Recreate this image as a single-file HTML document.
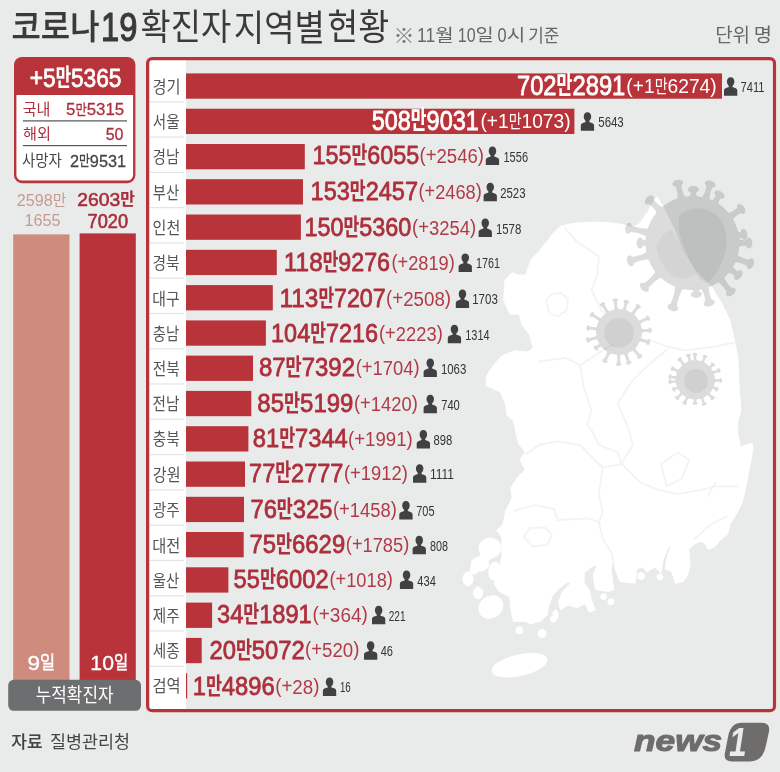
<!DOCTYPE html>
<html lang="ko">
<head>
<meta charset="utf-8">
<title>코로나19 확진자 지역별 현황</title>
<style>
html,body{margin:0;padding:0;background:#e9ebeb;}
body{width:780px;height:772px;overflow:hidden;}
svg{display:block;}
svg text{font-family:"Liberation Sans", "Noto Sans CJK KR", sans-serif;white-space:pre;}
</style>
</head>
<body>
<svg width="780" height="772" viewBox="0 0 780 772">
<rect x="0" y="0" width="780" height="772" fill="#e9ebeb"/>
<g fill="#fff" stroke="#fff" stroke-width="1" stroke-linejoin="round">
<polygon points="560.7,226 573.6,223.3 591.8,222 609.9,222.8 622.8,224.6 631,227 638.4,224.6 643.6,218 648.8,210.4 652,204 657,197 661.5,203.5 673.9,228.4 682.2,251.2 694.6,269.8 711.2,286.4 721.6,303 729.8,320 734.2,339 737.9,357.8 738.7,380.3 741,410.4 738,420 737.5,433 740.6,447.2 746,445 752.3,443.3 753,448.5 749.7,466.6 745.8,487.4 741.9,502.9 735.4,515.9 730.3,523.6 727.7,534 719.9,540.5 714.7,546.9 708.2,549.5 704.4,543 700,541.3 694,544.4 688.8,549.5 690.1,565.1 687.5,575.4 683.6,581.3 675.4,583.3 671.3,571 665.1,569 667.2,556.7 671.3,545.4 668,548 663,560 661,573.1 654.9,566.9 646.7,572 642.6,566.9 636.4,569 635.4,583.3 626.2,582.3 620,581.3 615.9,571 612.8,560.8 611,568 613.8,589.5 607.7,591.5 595.4,589.5 593.3,575.1 597.4,564.9 591.3,566.9 584.1,573.1 584.1,583.3 589.2,589.5 591.3,599.7 595.4,610 589.2,612.1 585.1,603.8 576.9,607.9 568,605 560.5,610 558.5,601.8 562.6,591.5 572.8,581.3 566,583 560.5,587.4 552.3,595.6 548.4,607 547.2,614.7 540.7,621.2 530.3,623.8 525.1,621.2 513.5,621.2 510.9,609.5 509.6,596.6 499.2,591.4 494,583.6 499.2,570.7 501.8,557.7 501.8,537 496.6,530.5 503.1,524 505.7,511.1 512.2,498.1 510.9,487.8 517.4,477.7 525.1,469.9 520,459.5 525.1,451.8 518.7,444 516.1,433.6 513.5,420.7 507,415.5 505.7,405.1 500.5,392.2 492,388 486.3,385.7 486.3,376.6 492.7,366.3 501.8,355.9 514.8,350.7 528,352 532.9,348 529.6,334.7 521.8,324.4 519.2,314 510,314 503.7,300 505,280 512,272.5 518,275 525.7,275 528.3,267.4 530.9,259.6 538.7,251.8 545.1,244 552.9,233.7"/>
<ellipse cx="490" cy="548" rx="11" ry="10" transform="rotate(0 490 548)"/>
<ellipse cx="480" cy="564" rx="9" ry="7" transform="rotate(0 480 564)"/>
<ellipse cx="468" cy="579" rx="5" ry="7" transform="rotate(0 468 579)"/>
<ellipse cx="478" cy="593" rx="4.5" ry="6" transform="rotate(0 478 593)"/>
<ellipse cx="494.5" cy="571" rx="5.5" ry="9" transform="rotate(10 494.5 571)"/>
<ellipse cx="486" cy="556" rx="6" ry="5" transform="rotate(0 486 556)"/>
<ellipse cx="474" cy="570" rx="4" ry="4" transform="rotate(0 474 570)"/>
<ellipse cx="641" cy="576" rx="3.5" ry="3.5" transform="rotate(0 641 576)"/>
<ellipse cx="660" cy="577" rx="3" ry="3" transform="rotate(0 660 577)"/>
<ellipse cx="490.8" cy="607" rx="12.5" ry="10.5" transform="rotate(-35 490.8 607)"/>
<ellipse cx="519.4" cy="630.3" rx="3.5" ry="3.5" transform="rotate(0 519.4 630.3)"/>
<ellipse cx="542" cy="633.6" rx="4" ry="4" transform="rotate(0 542 633.6)"/>
<ellipse cx="555.5" cy="615" rx="2.5" ry="5" transform="rotate(0 555.5 615)"/>
<ellipse cx="603.6" cy="596.7" rx="3" ry="3" transform="rotate(0 603.6 596.7)"/>
<ellipse cx="610.8" cy="601.8" rx="3" ry="3" transform="rotate(0 610.8 601.8)"/>
<ellipse cx="553.3" cy="619.2" rx="3" ry="3" transform="rotate(0 553.3 619.2)"/>
<ellipse cx="519.5" cy="665.3" rx="28" ry="10.2" transform="rotate(-12.5 519.5 665.3)"/>
</g>
<g fill="none" stroke="#f2f3f3" stroke-width="1.8" stroke-linejoin="round" stroke-linecap="round">
<polyline points="565.1,228.2 576.4,241.3 587.7,248.8 598.9,256.3 597.1,275.1 591.4,290.2 598.9,305.2 602.7,312.7"/>
<polyline points="546,301 551,294.5 561,293 568,299 566.5,310 558,316.5 549.5,313.5 546,301"/>
<polyline points="647.8,339 666.6,346.5 685.3,350.3 715.4,346.5 734.2,342.7"/>
<polyline points="538.8,361.5 565.1,357.8 580.2,365.3 602.7,350.3 612,345"/>
<polyline points="580.2,365.3 584,388 591.4,410 587,425 591.4,430 598.9,445 617.7,452.5 621.5,463.8"/>
<polyline points="617.7,402.8 632.7,380.3 647.8,365.3 666.6,350.3"/>
<polyline points="621.5,463.8 632.7,445 629,430 617.7,402.8"/>
<polyline points="525.7,454.4 538.8,445 557.6,441.3 580.2,445 591.4,456.3 602.7,467.6"/>
<polyline points="514.4,510.8 535.1,505.1 553.9,508.9 557.6,520.2 587.7,518.3 598.9,522 602.7,538.9 612.1,554 614,565.2"/>
<polyline points="523.8,537 530,528 545,527.7 552,535 547,545 533,546.5 523.8,537"/>
<polyline points="602.7,467.6 621.5,463.8 640.3,482.6 659,490.1 677.8,493.9 700.4,490.1 715.4,486.3 737.9,486.3"/>
<polyline points="602.7,467.6 598.9,493.9 602.7,512.6 598.9,522"/>
<polyline points="660.9,463.8 677.8,452.5 689.1,460 681.6,478.8 666.6,486.3 660.9,463.8"/>
<polyline points="707.9,495.7 715.4,482.6"/>
<polyline points="694.7,538.9 711.6,523.9 726.7,516.4"/>
</g>
<g opacity="0.135" fill="#000">
<circle cx="692.5" cy="243" r="47"/>
<path d="M45.50,-4.20 C50.38,-2.50 56.23,-2.50 58.60,-3.25 Q60.20,-5.60 61.00,-5.60 C66.20,-5.60 66.20,5.60 61.00,5.60 Q60.20,5.60 58.60,3.25 C56.23,2.50 50.38,2.50 45.50,4.20Z" transform="translate(692.5 243) rotate(-103.8)"/>
<path d="M45.50,-4.20 C48.38,-2.50 51.83,-2.50 50.60,-3.25 Q52.20,-5.60 53.00,-5.60 C58.20,-5.60 58.20,5.60 53.00,5.60 Q52.20,5.60 50.60,3.25 C51.83,2.50 48.38,2.50 45.50,4.20Z" transform="translate(692.5 243) rotate(-89.0)"/>
<path d="M45.50,-4.20 C50.38,-2.50 56.23,-2.50 58.60,-3.25 Q60.20,-5.60 61.00,-5.60 C66.20,-5.60 66.20,5.60 61.00,5.60 Q60.20,5.60 58.60,3.25 C56.23,2.50 50.38,2.50 45.50,4.20Z" transform="translate(692.5 243) rotate(-73.3)"/>
<path d="M45.50,-4.20 C48.88,-2.50 52.92,-2.50 52.60,-3.25 Q54.20,-5.60 55.00,-5.60 C60.20,-5.60 60.20,5.60 55.00,5.60 Q54.20,5.60 52.60,3.25 C52.92,2.50 48.88,2.50 45.50,4.20Z" transform="translate(692.5 243) rotate(-60.8)"/>
<path d="M45.50,-4.20 C49.88,-2.50 55.12,-2.50 56.60,-3.25 Q58.20,-5.60 59.00,-5.60 C64.20,-5.60 64.20,5.60 59.00,5.60 Q58.20,5.60 56.60,3.25 C55.12,2.50 49.88,2.50 45.50,4.20Z" transform="translate(692.5 243) rotate(-35.0)"/>
<path d="M45.50,-4.20 C48.05,-2.50 51.11,-2.50 49.30,-3.25 Q50.90,-5.60 51.70,-5.60 C56.90,-5.60 56.90,5.60 51.70,5.60 Q50.90,5.60 49.30,3.25 C51.11,2.50 48.05,2.50 45.50,4.20Z" transform="translate(692.5 243) rotate(-9.6)"/>
<path d="M45.50,-4.20 C49.12,-2.50 53.48,-2.50 53.60,-3.25 Q55.20,-5.60 56.00,-5.60 C61.20,-5.60 61.20,5.60 56.00,5.60 Q55.20,5.60 53.60,3.25 C53.48,2.50 49.12,2.50 45.50,4.20Z" transform="translate(692.5 243) rotate(0.0)"/>
<path d="M45.50,-4.20 C50.38,-2.50 56.23,-2.50 58.60,-3.25 Q60.20,-5.60 61.00,-5.60 C66.20,-5.60 66.20,5.60 61.00,5.60 Q60.20,5.60 58.60,3.25 C56.23,2.50 50.38,2.50 45.50,4.20Z" transform="translate(692.5 243) rotate(19.6)"/>
<path d="M45.50,-4.20 C49.00,-2.50 53.20,-2.50 53.10,-3.25 Q54.70,-5.60 55.50,-5.60 C60.70,-5.60 60.70,5.60 55.50,5.60 Q54.70,5.60 53.10,3.25 C53.20,2.50 49.00,2.50 45.50,4.20Z" transform="translate(692.5 243) rotate(35.0)"/>
<path d="M45.50,-4.20 C50.55,-2.50 56.61,-2.50 59.30,-3.25 Q60.90,-5.60 61.70,-5.60 C66.90,-5.60 66.90,5.60 61.70,5.60 Q60.90,5.60 59.30,3.25 C56.61,2.50 50.55,2.50 45.50,4.20Z" transform="translate(692.5 243) rotate(52.0)"/>
<path d="M45.50,-4.20 C50.55,-2.50 56.61,-2.50 59.30,-3.25 Q60.90,-5.60 61.70,-5.60 C66.90,-5.60 66.90,5.60 61.70,5.60 Q60.90,5.60 59.30,3.25 C56.61,2.50 50.55,2.50 45.50,4.20Z" transform="translate(692.5 243) rotate(74.4)"/>
<path d="M45.50,-4.20 C47.88,-2.50 50.73,-2.50 48.60,-3.25 Q50.20,-5.60 51.00,-5.60 C56.20,-5.60 56.20,5.60 51.00,5.60 Q50.20,5.60 48.60,3.25 C50.73,2.50 47.88,2.50 45.50,4.20Z" transform="translate(692.5 243) rotate(85.7)"/>
<path d="M45.50,-4.20 C51.88,-2.50 59.52,-2.50 64.60,-3.25 Q66.20,-5.60 67.00,-5.60 C72.20,-5.60 72.20,5.60 67.00,5.60 Q66.20,5.60 64.60,3.25 C59.52,2.50 51.88,2.50 45.50,4.20Z" transform="translate(692.5 243) rotate(106.9)"/>
<path d="M45.50,-4.20 C51.38,-2.50 58.42,-2.50 62.60,-3.25 Q64.20,-5.60 65.00,-5.60 C70.20,-5.60 70.20,5.60 65.00,5.60 Q64.20,5.60 62.60,3.25 C58.42,2.50 51.38,2.50 45.50,4.20Z" transform="translate(692.5 243) rotate(137.4)"/>
<path d="M45.50,-4.20 C51.12,-2.50 57.88,-2.50 61.60,-3.25 Q63.20,-5.60 64.00,-5.60 C69.20,-5.60 69.20,5.60 64.00,5.60 Q63.20,5.60 61.60,3.25 C57.88,2.50 51.12,2.50 45.50,4.20Z" transform="translate(692.5 243) rotate(164.0)"/>
<path d="M45.50,-4.20 C48.12,-2.50 51.27,-2.50 49.60,-3.25 Q51.20,-5.60 52.00,-5.60 C57.20,-5.60 57.20,5.60 52.00,5.60 Q51.20,5.60 49.60,3.25 C51.27,2.50 48.12,2.50 45.50,4.20Z" transform="translate(692.5 243) rotate(180.0)"/>
<path d="M45.50,-4.20 C51.38,-2.50 58.42,-2.50 62.60,-3.25 Q64.20,-5.60 65.00,-5.60 C70.20,-5.60 70.20,5.60 65.00,5.60 Q64.20,5.60 62.60,3.25 C58.42,2.50 51.38,2.50 45.50,4.20Z" transform="translate(692.5 243) rotate(-167.0)"/>
<path d="M45.50,-4.20 C50.25,-2.50 55.95,-2.50 58.10,-3.25 Q59.70,-5.60 60.50,-5.60 C65.70,-5.60 65.70,5.60 60.50,5.60 Q59.70,5.60 58.10,3.25 C55.95,2.50 50.25,2.50 45.50,4.20Z" transform="translate(692.5 243) rotate(-135.0)"/>
</g>
<path opacity="0.05" fill="#000" d="M679,216 Q690,206 704,209 Q718,212 724,226 Q730,244 722,262 Q716,276 708,283 Q700,282 694,270 Q684,250 679,232 Z"/><path opacity="0.035" fill="#000" d="M656,246 Q662,232 672,230 L684,254 L696,273 Q686,282 672,276 Q660,266 656,246 Z"/>
<g opacity="0.135" fill="#000">
<circle cx="619" cy="332" r="23"/>
<path d="M21.50,-2.18 C24.38,-1.30 27.82,-1.30 29.67,-1.69 Q30.50,-2.91 30.92,-2.91 C33.62,-2.91 33.62,2.91 30.92,2.91 Q30.50,2.91 29.67,1.69 C27.82,1.30 24.38,1.30 21.50,2.18Z" transform="translate(619 332) rotate(-172.6)"/>
<path d="M21.50,-2.18 C24.62,-1.30 28.38,-1.30 30.67,-1.69 Q31.50,-2.91 31.92,-2.91 C34.62,-2.91 34.62,2.91 31.92,2.91 Q31.50,2.91 30.67,1.69 C28.38,1.30 24.62,1.30 21.50,2.18Z" transform="translate(619 332) rotate(-147.3)"/>
<path d="M21.50,-2.18 C24.62,-1.30 28.38,-1.30 30.67,-1.69 Q31.50,-2.91 31.92,-2.91 C34.62,-2.91 34.62,2.91 31.92,2.91 Q31.50,2.91 30.67,1.69 C28.38,1.30 24.62,1.30 21.50,2.18Z" transform="translate(619 332) rotate(-120.7)"/>
<path d="M21.50,-2.18 C24.62,-1.30 28.38,-1.30 30.67,-1.69 Q31.50,-2.91 31.92,-2.91 C34.62,-2.91 34.62,2.91 31.92,2.91 Q31.50,2.91 30.67,1.69 C28.38,1.30 24.62,1.30 21.50,2.18Z" transform="translate(619 332) rotate(-96.9)"/>
<path d="M21.50,-2.18 C24.38,-1.30 27.82,-1.30 29.67,-1.69 Q30.50,-2.91 30.92,-2.91 C33.62,-2.91 33.62,2.91 30.92,2.91 Q30.50,2.91 29.67,1.69 C27.82,1.30 24.38,1.30 21.50,2.18Z" transform="translate(619 332) rotate(-76.4)"/>
<path d="M21.50,-2.18 C24.62,-1.30 28.38,-1.30 30.67,-1.69 Q31.50,-2.91 31.92,-2.91 C34.62,-2.91 34.62,2.91 31.92,2.91 Q31.50,2.91 30.67,1.69 C28.38,1.30 24.62,1.30 21.50,2.18Z" transform="translate(619 332) rotate(-53.1)"/>
<path d="M21.50,-2.18 C24.62,-1.30 28.38,-1.30 30.67,-1.69 Q31.50,-2.91 31.92,-2.91 C34.62,-2.91 34.62,2.91 31.92,2.91 Q31.50,2.91 30.67,1.69 C28.38,1.30 24.62,1.30 21.50,2.18Z" transform="translate(619 332) rotate(-25.6)"/>
<path d="M21.50,-2.18 C24.38,-1.30 27.82,-1.30 29.67,-1.69 Q30.50,-2.91 30.92,-2.91 C33.62,-2.91 33.62,2.91 30.92,2.91 Q30.50,2.91 29.67,1.69 C27.82,1.30 24.38,1.30 21.50,2.18Z" transform="translate(619 332) rotate(-3.0)"/>
<path d="M21.50,-2.18 C24.38,-1.30 27.82,-1.30 29.67,-1.69 Q30.50,-2.91 30.92,-2.91 C33.62,-2.91 33.62,2.91 30.92,2.91 Q30.50,2.91 29.67,1.69 C27.82,1.30 24.38,1.30 21.50,2.18Z" transform="translate(619 332) rotate(19.3)"/>
<path d="M21.50,-2.18 C24.62,-1.30 28.38,-1.30 30.67,-1.69 Q31.50,-2.91 31.92,-2.91 C34.62,-2.91 34.62,2.91 31.92,2.91 Q31.50,2.91 30.67,1.69 C28.38,1.30 24.62,1.30 21.50,2.18Z" transform="translate(619 332) rotate(49.7)"/>
<path d="M21.50,-2.18 C24.62,-1.30 28.38,-1.30 30.67,-1.69 Q31.50,-2.91 31.92,-2.91 C34.62,-2.91 34.62,2.91 31.92,2.91 Q31.50,2.91 30.67,1.69 C28.38,1.30 24.62,1.30 21.50,2.18Z" transform="translate(619 332) rotate(72.4)"/>
<path d="M21.50,-2.18 C24.62,-1.30 28.38,-1.30 30.67,-1.69 Q31.50,-2.91 31.92,-2.91 C34.62,-2.91 34.62,2.91 31.92,2.91 Q31.50,2.91 30.67,1.69 C28.38,1.30 24.62,1.30 21.50,2.18Z" transform="translate(619 332) rotate(90.6)"/>
<path d="M21.50,-2.18 C24.62,-1.30 28.38,-1.30 30.67,-1.69 Q31.50,-2.91 31.92,-2.91 C34.62,-2.91 34.62,2.91 31.92,2.91 Q31.50,2.91 30.67,1.69 C28.38,1.30 24.62,1.30 21.50,2.18Z" transform="translate(619 332) rotate(116.0)"/>
<path d="M21.50,-2.18 C23.62,-1.30 26.18,-1.30 26.67,-1.69 Q27.50,-2.91 27.92,-2.91 C30.62,-2.91 30.62,2.91 27.92,2.91 Q27.50,2.91 26.67,1.69 C26.18,1.30 23.62,1.30 21.50,2.18Z" transform="translate(619 332) rotate(145.2)"/>
<path d="M21.50,-2.18 C24.62,-1.30 28.38,-1.30 30.67,-1.69 Q31.50,-2.91 31.92,-2.91 C34.62,-2.91 34.62,2.91 31.92,2.91 Q31.50,2.91 30.67,1.69 C28.38,1.30 24.62,1.30 21.50,2.18Z" transform="translate(619 332) rotate(165.7)"/>
</g>
<circle cx="619" cy="333" r="15" fill="#000" opacity="0.05"/>
<g opacity="0.135" fill="#000">
<circle cx="695.3" cy="379.8" r="19.6"/>
<path d="M18.10,-1.89 C20.33,-1.12 23.00,-1.12 24.12,-1.46 Q24.84,-2.52 25.20,-2.52 C27.54,-2.52 27.54,2.52 25.20,2.52 Q24.84,2.52 24.12,1.46 C23.00,1.12 20.33,1.12 18.10,1.89Z" transform="translate(695.3 379.8) rotate(-173.3)"/>
<path d="M18.10,-1.89 C20.33,-1.12 23.00,-1.12 24.12,-1.46 Q24.84,-2.52 25.20,-2.52 C27.54,-2.52 27.54,2.52 25.20,2.52 Q24.84,2.52 24.12,1.46 C23.00,1.12 20.33,1.12 18.10,1.89Z" transform="translate(695.3 379.8) rotate(-153.8)"/>
<path d="M18.10,-1.89 C20.45,-1.12 23.27,-1.12 24.62,-1.46 Q25.34,-2.52 25.70,-2.52 C28.04,-2.52 28.04,2.52 25.70,2.52 Q25.34,2.52 24.62,1.46 C23.27,1.12 20.45,1.12 18.10,1.89Z" transform="translate(695.3 379.8) rotate(-127.3)"/>
<path d="M18.10,-1.89 C20.33,-1.12 23.00,-1.12 24.12,-1.46 Q24.84,-2.52 25.20,-2.52 C27.54,-2.52 27.54,2.52 25.20,2.52 Q24.84,2.52 24.12,1.46 C23.00,1.12 20.33,1.12 18.10,1.89Z" transform="translate(695.3 379.8) rotate(-106.0)"/>
<path d="M18.10,-1.89 C20.33,-1.12 23.00,-1.12 24.12,-1.46 Q24.84,-2.52 25.20,-2.52 C27.54,-2.52 27.54,2.52 25.20,2.52 Q24.84,2.52 24.12,1.46 C23.00,1.12 20.33,1.12 18.10,1.89Z" transform="translate(695.3 379.8) rotate(-90.7)"/>
<path d="M18.10,-1.89 C20.33,-1.12 23.00,-1.12 24.12,-1.46 Q24.84,-2.52 25.20,-2.52 C27.54,-2.52 27.54,2.52 25.20,2.52 Q24.84,2.52 24.12,1.46 C23.00,1.12 20.33,1.12 18.10,1.89Z" transform="translate(695.3 379.8) rotate(-67.3)"/>
<path d="M18.10,-1.89 C19.83,-1.12 21.89,-1.12 22.12,-1.46 Q22.84,-2.52 23.20,-2.52 C25.54,-2.52 25.54,2.52 23.20,2.52 Q22.84,2.52 22.12,1.46 C21.89,1.12 19.83,1.12 18.10,1.89Z" transform="translate(695.3 379.8) rotate(-40.8)"/>
<path d="M18.10,-1.89 C20.33,-1.12 23.00,-1.12 24.12,-1.46 Q24.84,-2.52 25.20,-2.52 C27.54,-2.52 27.54,2.52 25.20,2.52 Q24.84,2.52 24.12,1.46 C23.00,1.12 20.33,1.12 18.10,1.89Z" transform="translate(695.3 379.8) rotate(-21.6)"/>
<path d="M18.10,-1.89 C20.33,-1.12 23.00,-1.12 24.12,-1.46 Q24.84,-2.52 25.20,-2.52 C27.54,-2.52 27.54,2.52 25.20,2.52 Q24.84,2.52 24.12,1.46 C23.00,1.12 20.33,1.12 18.10,1.89Z" transform="translate(695.3 379.8) rotate(1.6)"/>
<path d="M18.10,-1.89 C19.83,-1.12 21.89,-1.12 22.12,-1.46 Q22.84,-2.52 23.20,-2.52 C25.54,-2.52 25.54,2.52 23.20,2.52 Q22.84,2.52 22.12,1.46 C21.89,1.12 19.83,1.12 18.10,1.89Z" transform="translate(695.3 379.8) rotate(23.7)"/>
<path d="M18.10,-1.89 C20.33,-1.12 23.00,-1.12 24.12,-1.46 Q24.84,-2.52 25.20,-2.52 C27.54,-2.52 27.54,2.52 25.20,2.52 Q24.84,2.52 24.12,1.46 C23.00,1.12 20.33,1.12 18.10,1.89Z" transform="translate(695.3 379.8) rotate(46.5)"/>
<path d="M18.10,-1.89 C20.45,-1.12 23.27,-1.12 24.62,-1.46 Q25.34,-2.52 25.70,-2.52 C28.04,-2.52 28.04,2.52 25.70,2.52 Q25.34,2.52 24.62,1.46 C23.27,1.12 20.45,1.12 18.10,1.89Z" transform="translate(695.3 379.8) rotate(69.9)"/>
<path d="M18.10,-1.89 C19.83,-1.12 21.89,-1.12 22.12,-1.46 Q22.84,-2.52 23.20,-2.52 C25.54,-2.52 25.54,2.52 23.20,2.52 Q22.84,2.52 22.12,1.46 C21.89,1.12 19.83,1.12 18.10,1.89Z" transform="translate(695.3 379.8) rotate(90.6)"/>
<path d="M18.10,-1.89 C20.33,-1.12 23.00,-1.12 24.12,-1.46 Q24.84,-2.52 25.20,-2.52 C27.54,-2.52 27.54,2.52 25.20,2.52 Q24.84,2.52 24.12,1.46 C23.00,1.12 20.33,1.12 18.10,1.89Z" transform="translate(695.3 379.8) rotate(114.7)"/>
<path d="M18.10,-1.89 C20.45,-1.12 23.27,-1.12 24.62,-1.46 Q25.34,-2.52 25.70,-2.52 C28.04,-2.52 28.04,2.52 25.70,2.52 Q25.34,2.52 24.62,1.46 C23.27,1.12 20.45,1.12 18.10,1.89Z" transform="translate(695.3 379.8) rotate(134.7)"/>
<path d="M18.10,-1.89 C19.83,-1.12 21.89,-1.12 22.12,-1.46 Q22.84,-2.52 23.20,-2.52 C25.54,-2.52 25.54,2.52 23.20,2.52 Q22.84,2.52 22.12,1.46 C21.89,1.12 19.83,1.12 18.10,1.89Z" transform="translate(695.3 379.8) rotate(156.1)"/>
<path d="M18.10,-1.89 C20.33,-1.12 23.00,-1.12 24.12,-1.46 Q24.84,-2.52 25.20,-2.52 C27.54,-2.52 27.54,2.52 25.20,2.52 Q24.84,2.52 24.12,1.46 C23.00,1.12 20.33,1.12 18.10,1.89Z" transform="translate(695.3 379.8) rotate(175.3)"/>
</g>
<circle cx="696" cy="381" r="12" fill="#000" opacity="0.05"/>
<rect x="14" y="57" width="121.4" height="126.2" rx="8" fill="#b8343a"/>
<path d="M16.4,95.1 H133.1 V175 a5.6,5.6 0 0 1 -5.6,5.6 H22 a5.6,5.6 0 0 1 -5.6,-5.6 Z" fill="#fff"/>
<rect x="22.9" y="120.3" width="104.1" height="1.2" fill="#555"/>
<rect x="22.9" y="145" width="104.1" height="1.2" fill="#555"/>
<rect x="13.2" y="234.4" width="56.3" height="450" fill="#cf8b7d"/>
<rect x="79.6" y="233.4" width="56.2" height="451" fill="#b8343a"/>
<rect x="8.2" y="679.8" width="132.8" height="31" rx="5.5" fill="#6d6e70"/>
<path d="M149.5,60 H186 V709 H153 a3.5,3.5 0 0 1 -3.5,-3.5 Z" fill="#fff"/>
<rect x="150" y="101.2" width="34" height="1.2" fill="#e3e4e4"/>
<rect x="150" y="136.5" width="34" height="1.2" fill="#e3e4e4"/>
<rect x="150" y="171.8" width="34" height="1.2" fill="#e3e4e4"/>
<rect x="150" y="207.0" width="34" height="1.2" fill="#e3e4e4"/>
<rect x="150" y="242.3" width="34" height="1.2" fill="#e3e4e4"/>
<rect x="150" y="277.6" width="34" height="1.2" fill="#e3e4e4"/>
<rect x="150" y="312.9" width="34" height="1.2" fill="#e3e4e4"/>
<rect x="150" y="348.2" width="34" height="1.2" fill="#e3e4e4"/>
<rect x="150" y="383.4" width="34" height="1.2" fill="#e3e4e4"/>
<rect x="150" y="418.7" width="34" height="1.2" fill="#e3e4e4"/>
<rect x="150" y="454.0" width="34" height="1.2" fill="#e3e4e4"/>
<rect x="150" y="489.3" width="34" height="1.2" fill="#e3e4e4"/>
<rect x="150" y="524.6" width="34" height="1.2" fill="#e3e4e4"/>
<rect x="150" y="559.8" width="34" height="1.2" fill="#e3e4e4"/>
<rect x="150" y="595.1" width="34" height="1.2" fill="#e3e4e4"/>
<rect x="150" y="630.4" width="34" height="1.2" fill="#e3e4e4"/>
<rect x="150" y="665.7" width="34" height="1.2" fill="#e3e4e4"/>
<rect x="186" y="73.4" width="536.0" height="25.3" fill="#b8343a"/>
<rect x="186" y="108.7" width="388.4" height="25.3" fill="#b8343a"/>
<rect x="186" y="144.0" width="118.8" height="25.3" fill="#b8343a"/>
<rect x="186" y="179.2" width="117.0" height="25.3" fill="#b8343a"/>
<rect x="186" y="214.5" width="114.9" height="25.3" fill="#b8343a"/>
<rect x="186" y="249.8" width="90.8" height="25.3" fill="#b8343a"/>
<rect x="186" y="285.1" width="86.8" height="25.3" fill="#b8343a"/>
<rect x="186" y="320.4" width="79.9" height="25.3" fill="#b8343a"/>
<rect x="186" y="355.6" width="67.0" height="25.3" fill="#b8343a"/>
<rect x="186" y="390.9" width="65.3" height="25.3" fill="#b8343a"/>
<rect x="186" y="426.2" width="62.4" height="25.3" fill="#b8343a"/>
<rect x="186" y="461.5" width="59.0" height="25.3" fill="#b8343a"/>
<rect x="186" y="496.8" width="58.0" height="25.3" fill="#b8343a"/>
<rect x="186" y="532.0" width="57.7" height="25.3" fill="#b8343a"/>
<rect x="186" y="567.3" width="42.4" height="25.3" fill="#b8343a"/>
<rect x="186" y="602.6" width="26.1" height="25.3" fill="#b8343a"/>
<rect x="186" y="637.9" width="15.7" height="25.3" fill="#b8343a"/>
<rect x="186" y="673.2" width="1.2" height="25.3" fill="#b8343a"/>
<rect x="147.6" y="58.6" width="626.9" height="652.1" rx="4.5" fill="none" stroke="#b8343a" stroke-width="3.2"/>
<g fill="#414042">
<path transform="translate(724.0 77.2)" d="M6.65,0 C9,0 10.4,1.9 10.4,4.4 C10.4,6.3 9.6,7.9 8.5,8.7 L8.5,9.9 L11.2,10.8 C12.6,11.3 13.3,12.2 13.3,13.6 L13.3,18.5 L0,18.5 L0,13.6 C0,12.2 0.7,11.3 2.1,10.8 L4.8,9.9 L4.8,8.7 C3.7,7.9 2.9,6.3 2.9,4.4 C2.9,1.9 4.3,0 6.65,0 Z"/>
<path transform="translate(580.8 112.2)" d="M6.65,0 C9,0 10.4,1.9 10.4,4.4 C10.4,6.3 9.6,7.9 8.5,8.7 L8.5,9.9 L11.2,10.8 C12.6,11.3 13.3,12.2 13.3,13.6 L13.3,18.5 L0,18.5 L0,13.6 C0,12.2 0.7,11.3 2.1,10.8 L4.8,9.9 L4.8,8.7 C3.7,7.9 2.9,6.3 2.9,4.4 C2.9,1.9 4.3,0 6.65,0 Z"/>
<path transform="translate(485.8 146.6)" d="M6.65,0 C9,0 10.4,1.9 10.4,4.4 C10.4,6.3 9.6,7.9 8.5,8.7 L8.5,9.9 L11.2,10.8 C12.6,11.3 13.3,12.2 13.3,13.6 L13.3,18.5 L0,18.5 L0,13.6 C0,12.2 0.7,11.3 2.1,10.8 L4.8,9.9 L4.8,8.7 C3.7,7.9 2.9,6.3 2.9,4.4 C2.9,1.9 4.3,0 6.65,0 Z"/>
<path transform="translate(483.6 182.7)" d="M6.65,0 C9,0 10.4,1.9 10.4,4.4 C10.4,6.3 9.6,7.9 8.5,8.7 L8.5,9.9 L11.2,10.8 C12.6,11.3 13.3,12.2 13.3,13.6 L13.3,18.5 L0,18.5 L0,13.6 C0,12.2 0.7,11.3 2.1,10.8 L4.8,9.9 L4.8,8.7 C3.7,7.9 2.9,6.3 2.9,4.4 C2.9,1.9 4.3,0 6.65,0 Z"/>
<path transform="translate(478.6 218.6)" d="M6.65,0 C9,0 10.4,1.9 10.4,4.4 C10.4,6.3 9.6,7.9 8.5,8.7 L8.5,9.9 L11.2,10.8 C12.6,11.3 13.3,12.2 13.3,13.6 L13.3,18.5 L0,18.5 L0,13.6 C0,12.2 0.7,11.3 2.1,10.8 L4.8,9.9 L4.8,8.7 C3.7,7.9 2.9,6.3 2.9,4.4 C2.9,1.9 4.3,0 6.65,0 Z"/>
<path transform="translate(458.6 253.4)" d="M6.65,0 C9,0 10.4,1.9 10.4,4.4 C10.4,6.3 9.6,7.9 8.5,8.7 L8.5,9.9 L11.2,10.8 C12.6,11.3 13.3,12.2 13.3,13.6 L13.3,18.5 L0,18.5 L0,13.6 C0,12.2 0.7,11.3 2.1,10.8 L4.8,9.9 L4.8,8.7 C3.7,7.9 2.9,6.3 2.9,4.4 C2.9,1.9 4.3,0 6.65,0 Z"/>
<path transform="translate(455.8 289.6)" d="M6.65,0 C9,0 10.4,1.9 10.4,4.4 C10.4,6.3 9.6,7.9 8.5,8.7 L8.5,9.9 L11.2,10.8 C12.6,11.3 13.3,12.2 13.3,13.6 L13.3,18.5 L0,18.5 L0,13.6 C0,12.2 0.7,11.3 2.1,10.8 L4.8,9.9 L4.8,8.7 C3.7,7.9 2.9,6.3 2.9,4.4 C2.9,1.9 4.3,0 6.65,0 Z"/>
<path transform="translate(447.8 324.8)" d="M6.65,0 C9,0 10.4,1.9 10.4,4.4 C10.4,6.3 9.6,7.9 8.5,8.7 L8.5,9.9 L11.2,10.8 C12.6,11.3 13.3,12.2 13.3,13.6 L13.3,18.5 L0,18.5 L0,13.6 C0,12.2 0.7,11.3 2.1,10.8 L4.8,9.9 L4.8,8.7 C3.7,7.9 2.9,6.3 2.9,4.4 C2.9,1.9 4.3,0 6.65,0 Z"/>
<path transform="translate(423.6 358.6)" d="M6.65,0 C9,0 10.4,1.9 10.4,4.4 C10.4,6.3 9.6,7.9 8.5,8.7 L8.5,9.9 L11.2,10.8 C12.6,11.3 13.3,12.2 13.3,13.6 L13.3,18.5 L0,18.5 L0,13.6 C0,12.2 0.7,11.3 2.1,10.8 L4.8,9.9 L4.8,8.7 C3.7,7.9 2.9,6.3 2.9,4.4 C2.9,1.9 4.3,0 6.65,0 Z"/>
<path transform="translate(423.6 394.7)" d="M6.65,0 C9,0 10.4,1.9 10.4,4.4 C10.4,6.3 9.6,7.9 8.5,8.7 L8.5,9.9 L11.2,10.8 C12.6,11.3 13.3,12.2 13.3,13.6 L13.3,18.5 L0,18.5 L0,13.6 C0,12.2 0.7,11.3 2.1,10.8 L4.8,9.9 L4.8,8.7 C3.7,7.9 2.9,6.3 2.9,4.4 C2.9,1.9 4.3,0 6.65,0 Z"/>
<path transform="translate(416.7 430.1)" d="M6.65,0 C9,0 10.4,1.9 10.4,4.4 C10.4,6.3 9.6,7.9 8.5,8.7 L8.5,9.9 L11.2,10.8 C12.6,11.3 13.3,12.2 13.3,13.6 L13.3,18.5 L0,18.5 L0,13.6 C0,12.2 0.7,11.3 2.1,10.8 L4.8,9.9 L4.8,8.7 C3.7,7.9 2.9,6.3 2.9,4.4 C2.9,1.9 4.3,0 6.65,0 Z"/>
<path transform="translate(413.0 464.2)" d="M6.65,0 C9,0 10.4,1.9 10.4,4.4 C10.4,6.3 9.6,7.9 8.5,8.7 L8.5,9.9 L11.2,10.8 C12.6,11.3 13.3,12.2 13.3,13.6 L13.3,18.5 L0,18.5 L0,13.6 C0,12.2 0.7,11.3 2.1,10.8 L4.8,9.9 L4.8,8.7 C3.7,7.9 2.9,6.3 2.9,4.4 C2.9,1.9 4.3,0 6.65,0 Z"/>
<path transform="translate(399.3 501.1)" d="M6.65,0 C9,0 10.4,1.9 10.4,4.4 C10.4,6.3 9.6,7.9 8.5,8.7 L8.5,9.9 L11.2,10.8 C12.6,11.3 13.3,12.2 13.3,13.6 L13.3,18.5 L0,18.5 L0,13.6 C0,12.2 0.7,11.3 2.1,10.8 L4.8,9.9 L4.8,8.7 C3.7,7.9 2.9,6.3 2.9,4.4 C2.9,1.9 4.3,0 6.65,0 Z"/>
<path transform="translate(412.6 535.8)" d="M6.65,0 C9,0 10.4,1.9 10.4,4.4 C10.4,6.3 9.6,7.9 8.5,8.7 L8.5,9.9 L11.2,10.8 C12.6,11.3 13.3,12.2 13.3,13.6 L13.3,18.5 L0,18.5 L0,13.6 C0,12.2 0.7,11.3 2.1,10.8 L4.8,9.9 L4.8,8.7 C3.7,7.9 2.9,6.3 2.9,4.4 C2.9,1.9 4.3,0 6.65,0 Z"/>
<path transform="translate(399.9 570.5)" d="M6.65,0 C9,0 10.4,1.9 10.4,4.4 C10.4,6.3 9.6,7.9 8.5,8.7 L8.5,9.9 L11.2,10.8 C12.6,11.3 13.3,12.2 13.3,13.6 L13.3,18.5 L0,18.5 L0,13.6 C0,12.2 0.7,11.3 2.1,10.8 L4.8,9.9 L4.8,8.7 C3.7,7.9 2.9,6.3 2.9,4.4 C2.9,1.9 4.3,0 6.65,0 Z"/>
<path transform="translate(372.0 605.8)" d="M6.65,0 C9,0 10.4,1.9 10.4,4.4 C10.4,6.3 9.6,7.9 8.5,8.7 L8.5,9.9 L11.2,10.8 C12.6,11.3 13.3,12.2 13.3,13.6 L13.3,18.5 L0,18.5 L0,13.6 C0,12.2 0.7,11.3 2.1,10.8 L4.8,9.9 L4.8,8.7 C3.7,7.9 2.9,6.3 2.9,4.4 C2.9,1.9 4.3,0 6.65,0 Z"/>
<path transform="translate(364.0 641.3)" d="M6.65,0 C9,0 10.4,1.9 10.4,4.4 C10.4,6.3 9.6,7.9 8.5,8.7 L8.5,9.9 L11.2,10.8 C12.6,11.3 13.3,12.2 13.3,13.6 L13.3,18.5 L0,18.5 L0,13.6 C0,12.2 0.7,11.3 2.1,10.8 L4.8,9.9 L4.8,8.7 C3.7,7.9 2.9,6.3 2.9,4.4 C2.9,1.9 4.3,0 6.65,0 Z"/>
<path transform="translate(322.9 677.5)" d="M6.65,0 C9,0 10.4,1.9 10.4,4.4 C10.4,6.3 9.6,7.9 8.5,8.7 L8.5,9.9 L11.2,10.8 C12.6,11.3 13.3,12.2 13.3,13.6 L13.3,18.5 L0,18.5 L0,13.6 C0,12.2 0.7,11.3 2.1,10.8 L4.8,9.9 L4.8,8.7 C3.7,7.9 2.9,6.3 2.9,4.4 C2.9,1.9 4.3,0 6.65,0 Z"/>
</g>
<path d="M742,722.8 H761 Q770.5,722.8 769,731.5 L765.8,746 Q763,761.4 750,761.4 H732 Q723.3,761.4 724.9,753 L728.2,736 Q730.8,722.8 742,722.8 Z" fill="#6f6c6c"/>
<text id="t1a" x="11.51" y="38.82" font-size="34.19" font-weight="500" fill="#3a3a3a" textLength="87.95" lengthAdjust="spacingAndGlyphs" style="stroke:#3a3a3a;stroke-width:0.27px;stroke-linejoin:round">코로나</text>
<text id="t1b" x="101.08" y="40.84" font-size="40.31" font-weight="400" fill="#3a3a3a" textLength="36.34" lengthAdjust="spacingAndGlyphs" style="stroke:#3a3a3a;stroke-width:1.21px;stroke-linejoin:round">19</text>
<text id="t2a" x="140.56" y="40.43" font-size="36.31" font-weight="400" fill="#3a3a3a" textLength="90.59" lengthAdjust="spacingAndGlyphs">확진자</text>
<text id="t2b" x="233.75" y="40.66" font-size="36.58" font-weight="400" fill="#3a3a3a" textLength="91.14" lengthAdjust="spacingAndGlyphs">지역별</text>
<text id="t2c" x="327.16" y="40.43" font-size="36.31" font-weight="400" fill="#3a3a3a" textLength="62.05" lengthAdjust="spacingAndGlyphs">현황</text>
<text id="s0" x="393.45" y="42.70" font-size="19.52" font-weight="400" fill="#777" textLength="20.95" lengthAdjust="spacingAndGlyphs">※</text>
<text id="s1" x="417.12" y="42.19" font-size="19.67" font-weight="400" fill="#666"><tspan class="d" textLength="18.10" lengthAdjust="spacingAndGlyphs">11</tspan><tspan class="k" font-size="17.31" dy="-0.79" textLength="18.45" lengthAdjust="spacingAndGlyphs">월</tspan></text>
<text id="s2" x="457.79" y="41.96" font-size="19.31" font-weight="400" fill="#666"><tspan class="d" textLength="17.85" lengthAdjust="spacingAndGlyphs">10</tspan><tspan class="k" font-size="17.00" dy="-0.77" textLength="18.20" lengthAdjust="spacingAndGlyphs">일</tspan></text>
<text id="s3" x="497.59" y="41.96" font-size="19.31" font-weight="400" fill="#666"><tspan class="d" textLength="9.08" lengthAdjust="spacingAndGlyphs">0</tspan><tspan class="k" font-size="17.00" dy="-0.77" textLength="18.51" lengthAdjust="spacingAndGlyphs">시</tspan></text>
<text id="s4" x="528.25" y="41.81" font-size="18.17" font-weight="400" fill="#666" textLength="31.16" lengthAdjust="spacingAndGlyphs">기준</text>
<text id="u1" x="715.16" y="41.61" font-size="18.89" font-weight="400" fill="#666" textLength="34.88" lengthAdjust="spacingAndGlyphs">단위</text>
<text id="u2" x="753.76" y="41.61" font-size="18.89" font-weight="400" fill="#666" textLength="18.24" lengthAdjust="spacingAndGlyphs">명</text>
<text id="p0" x="29.68" y="87.23" font-size="25.75" font-weight="400" fill="#fff" style="stroke:#fff;stroke-width:0.77px;stroke-linejoin:round"><tspan class="p" dy="-0.90" textLength="13.29" lengthAdjust="spacingAndGlyphs">+</tspan><tspan class="d" dy="0.90" textLength="12.66" lengthAdjust="spacingAndGlyphs">5</tspan><tspan class="k" font-size="23.43" font-weight="700" stroke-width="0.21" dy="-1.03" textLength="15.25" lengthAdjust="spacingAndGlyphs">만</tspan><tspan class="d" dy="1.03" textLength="50.62" lengthAdjust="spacingAndGlyphs">5365</tspan></text>
<text id="p1a" x="22.66" y="114.79" font-size="15.56" font-weight="400" fill="#ad2f3b" textLength="27.70" lengthAdjust="spacingAndGlyphs">국내</text>
<text id="p1b" x="65.99" y="115.35" font-size="16.47" font-weight="400" fill="#ad2f3b" style="stroke:#ad2f3b;stroke-width:0.26px;stroke-linejoin:round"><tspan class="d" textLength="9.39" lengthAdjust="spacingAndGlyphs">5</tspan><tspan class="k" font-size="14.99" dy="-0.66" textLength="11.31" lengthAdjust="spacingAndGlyphs">만</tspan><tspan class="d" dy="0.66" textLength="37.55" lengthAdjust="spacingAndGlyphs">5315</tspan></text>
<text id="p2a" x="22.92" y="139.05" font-size="14.87" font-weight="400" fill="#ad2f3b" textLength="27.95" lengthAdjust="spacingAndGlyphs">해외</text>
<text id="p2b" x="105.64" y="139.66" font-size="16.59" font-weight="400" fill="#ad2f3b" textLength="17.83" lengthAdjust="spacingAndGlyphs" style="stroke:#ad2f3b;stroke-width:0.27px;stroke-linejoin:round">50</text>
<text id="p3a" x="21.93" y="166.33" font-size="15.35" font-weight="400" fill="#444" textLength="40.00" lengthAdjust="spacingAndGlyphs">사망자</text>
<text id="p3b" x="69.88" y="166.78" font-size="16.80" font-weight="400" fill="#444" style="stroke:#444;stroke-width:0.27px;stroke-linejoin:round"><tspan class="d" textLength="9.06" lengthAdjust="spacingAndGlyphs">2</tspan><tspan class="k" font-size="15.29" dy="-0.67" textLength="10.91" lengthAdjust="spacingAndGlyphs">만</tspan><tspan class="d" dy="0.67" textLength="36.23" lengthAdjust="spacingAndGlyphs">9531</tspan></text>
<text id="b1a" x="16.73" y="206.27" font-size="17.25" font-weight="400" fill="#c99a90"><tspan class="d" textLength="36.03" lengthAdjust="spacingAndGlyphs">2598</tspan><tspan class="k" font-size="15.70" dy="-0.69" textLength="13.56" lengthAdjust="spacingAndGlyphs">만</tspan></text>
<text id="b1b" x="24.45" y="226.27" font-size="16.52" font-weight="400" fill="#c99a90" textLength="36.00" lengthAdjust="spacingAndGlyphs">1655</text>
<text id="b2a" x="77.23" y="205.53" font-size="18.89" font-weight="400" fill="#a92d3a" style="stroke:#a92d3a;stroke-width:0.57px;stroke-linejoin:round"><tspan class="d" textLength="42.94" lengthAdjust="spacingAndGlyphs">2603</tspan><tspan class="k" font-size="17.19" font-weight="700" stroke-width="0.15" dy="-0.76" textLength="14.55" lengthAdjust="spacingAndGlyphs">만</tspan></text>
<text id="b2b" x="87.52" y="227.71" font-size="19.49" font-weight="400" fill="#a92d3a" textLength="40.52" lengthAdjust="spacingAndGlyphs" style="stroke:#a92d3a;stroke-width:0.58px;stroke-linejoin:round">7020</text>
<text id="d1" x="27.41" y="670.02" font-size="20.28" font-weight="400" fill="#fff" style="stroke:#fff;stroke-width:0.32px;stroke-linejoin:round"><tspan class="d" textLength="12.58" lengthAdjust="spacingAndGlyphs">9</tspan><tspan class="k" font-size="18.46" dy="-0.81" textLength="15.15" lengthAdjust="spacingAndGlyphs">일</tspan></text>
<text id="d2" x="90.37" y="670.02" font-size="20.28" font-weight="400" fill="#fff" style="stroke:#fff;stroke-width:0.32px;stroke-linejoin:round"><tspan class="d" textLength="23.59" lengthAdjust="spacingAndGlyphs">10</tspan><tspan class="k" font-size="18.46" dy="-0.81" textLength="14.21" lengthAdjust="spacingAndGlyphs">일</tspan></text>
<text id="lab" x="35.74" y="702.01" font-size="19.40" font-weight="400" fill="#fff" textLength="77.77" lengthAdjust="spacingAndGlyphs">누적확진자</text>
<text id="src1" x="11.39" y="747.54" font-size="16.56" font-weight="500" fill="#444" textLength="31.30" lengthAdjust="spacingAndGlyphs" style="stroke:#444;stroke-width:0.13px;stroke-linejoin:round">자료</text>
<text id="src2" x="49.96" y="748.01" font-size="17.13" font-weight="400" fill="#444" textLength="80.06" lengthAdjust="spacingAndGlyphs">질병관리청</text>
<text id="logo" x="633.98" y="751.20" font-size="30.30" font-weight="700" fill="#6f6c6c" textLength="88.28" lengthAdjust="spacingAndGlyphs" style="font-style:italic;stroke:#6f6c6c;stroke-width:1.1px;stroke-linejoin:round">news</text>
<text id="logo1" x="729.06" y="755.85" font-size="40.26" font-weight="700" fill="#e9ebeb" textLength="17.63" lengthAdjust="spacingAndGlyphs" style="font-style:italic">1</text>
<text id="r0l" x="152.51" y="92.63" font-size="16.67" font-weight="400" fill="#555" textLength="28.12" lengthAdjust="spacingAndGlyphs">경기</text>
<text id="r0m" x="516.98" y="95.25" font-size="27.79" font-weight="400" fill="#fff" style="stroke:#fff;stroke-width:0.83px;stroke-linejoin:round"><tspan class="d" textLength="39.61" lengthAdjust="spacingAndGlyphs">702</tspan><tspan class="k" font-size="25.29" font-weight="700" stroke-width="0.22" dy="-1.11" textLength="15.91" lengthAdjust="spacingAndGlyphs">만</tspan><tspan class="d" dy="1.11" textLength="52.82" lengthAdjust="spacingAndGlyphs">2891</tspan></text>
<text id="r0i" x="626.37" y="93.31" font-size="19.60" font-weight="400" fill="#fff"><tspan class="p" dy="-0.69" textLength="17.62" lengthAdjust="spacingAndGlyphs">(+</tspan><tspan class="d" dy="0.69" textLength="10.68" lengthAdjust="spacingAndGlyphs">1</tspan><tspan class="k" font-size="17.83" dy="-0.78" textLength="12.87" lengthAdjust="spacingAndGlyphs">만</tspan><tspan class="d" dy="0.78" textLength="42.74" lengthAdjust="spacingAndGlyphs">6274</tspan><tspan class="p" dy="-0.69" textLength="6.40" lengthAdjust="spacingAndGlyphs">)</tspan></text>
<text id="r0c" x="740.48" y="92.05" font-size="14.62" font-weight="400" fill="#333" textLength="24.05" lengthAdjust="spacingAndGlyphs">7411</text>
<text id="r1l" x="152.80" y="127.91" font-size="16.67" font-weight="400" fill="#555" textLength="26.89" lengthAdjust="spacingAndGlyphs">서울</text>
<text id="r1m" x="371.67" y="130.25" font-size="27.79" font-weight="400" fill="#fff" style="stroke:#fff;stroke-width:0.83px;stroke-linejoin:round"><tspan class="d" textLength="39.18" lengthAdjust="spacingAndGlyphs">508</tspan><tspan class="k" font-size="25.29" font-weight="700" stroke-width="0.22" dy="-1.11" textLength="15.73" lengthAdjust="spacingAndGlyphs">만</tspan><tspan class="d" dy="1.11" textLength="52.24" lengthAdjust="spacingAndGlyphs">9031</tspan></text>
<text id="r1i" x="480.42" y="128.31" font-size="19.60" font-weight="400" fill="#fff"><tspan class="p" dy="-0.69" textLength="17.59" lengthAdjust="spacingAndGlyphs">(+</tspan><tspan class="d" dy="0.69" textLength="10.67" lengthAdjust="spacingAndGlyphs">1</tspan><tspan class="k" font-size="17.83" dy="-0.78" textLength="12.85" lengthAdjust="spacingAndGlyphs">만</tspan><tspan class="d" dy="0.78" textLength="42.67" lengthAdjust="spacingAndGlyphs">1073</tspan><tspan class="p" dy="-0.69" textLength="6.39" lengthAdjust="spacingAndGlyphs">)</tspan></text>
<text id="r1c" x="598.28" y="127.04" font-size="14.25" font-weight="400" fill="#333" textLength="25.47" lengthAdjust="spacingAndGlyphs">5643</text>
<text id="r2l" x="152.56" y="163.19" font-size="16.67" font-weight="400" fill="#555" textLength="26.87" lengthAdjust="spacingAndGlyphs">경남</text>
<text id="r2m" x="312.58" y="163.92" font-size="25.59" font-weight="400" fill="#ad2f3b" style="stroke:#ad2f3b;stroke-width:0.77px;stroke-linejoin:round"><tspan class="d" textLength="38.99" lengthAdjust="spacingAndGlyphs">155</tspan><tspan class="k" font-size="23.28" font-weight="700" stroke-width="0.20" dy="-1.02" textLength="15.66" lengthAdjust="spacingAndGlyphs">만</tspan><tspan class="d" dy="1.02" textLength="51.98" lengthAdjust="spacingAndGlyphs">6055</tspan></text>
<text id="r2i" x="419.50" y="162.76" font-size="19.60" font-weight="400" fill="#b23a46"><tspan class="p" dy="-0.69" textLength="17.04" lengthAdjust="spacingAndGlyphs">(+</tspan><tspan class="d" dy="0.69" textLength="41.33" lengthAdjust="spacingAndGlyphs">2546</tspan><tspan class="p" dy="-0.69" textLength="6.19" lengthAdjust="spacingAndGlyphs">)</tspan></text>
<text id="r2c" x="503.43" y="161.50" font-size="14.25" font-weight="400" fill="#333" textLength="24.62" lengthAdjust="spacingAndGlyphs">1556</text>
<text id="r3l" x="152.84" y="198.72" font-size="16.67" font-weight="400" fill="#555" textLength="26.33" lengthAdjust="spacingAndGlyphs">부산</text>
<text id="r3m" x="310.57" y="199.98" font-size="25.59" font-weight="400" fill="#ad2f3b" style="stroke:#ad2f3b;stroke-width:0.77px;stroke-linejoin:round"><tspan class="d" textLength="39.30" lengthAdjust="spacingAndGlyphs">153</tspan><tspan class="k" font-size="23.28" font-weight="700" stroke-width="0.20" dy="-1.02" textLength="15.78" lengthAdjust="spacingAndGlyphs">만</tspan><tspan class="d" dy="1.02" textLength="52.40" lengthAdjust="spacingAndGlyphs">2457</tspan></text>
<text id="r3i" x="418.46" y="198.81" font-size="19.60" font-weight="400" fill="#b23a46"><tspan class="p" dy="-0.69" textLength="16.71" lengthAdjust="spacingAndGlyphs">(+</tspan><tspan class="d" dy="0.69" textLength="40.52" lengthAdjust="spacingAndGlyphs">2468</tspan><tspan class="p" dy="-0.69" textLength="6.07" lengthAdjust="spacingAndGlyphs">)</tspan></text>
<text id="r3c" x="500.18" y="197.54" font-size="14.25" font-weight="400" fill="#333" textLength="25.34" lengthAdjust="spacingAndGlyphs">2523</text>
<text id="r4l" x="152.52" y="234.23" font-size="16.95" font-weight="400" fill="#555" textLength="27.80" lengthAdjust="spacingAndGlyphs">인천</text>
<text id="r4m" x="304.48" y="235.92" font-size="25.59" font-weight="400" fill="#ad2f3b" style="stroke:#ad2f3b;stroke-width:0.77px;stroke-linejoin:round"><tspan class="d" textLength="39.03" lengthAdjust="spacingAndGlyphs">150</tspan><tspan class="k" font-size="23.28" font-weight="700" stroke-width="0.20" dy="-1.02" textLength="15.67" lengthAdjust="spacingAndGlyphs">만</tspan><tspan class="d" dy="1.02" textLength="52.04" lengthAdjust="spacingAndGlyphs">5360</tspan></text>
<text id="r4i" x="412.00" y="234.76" font-size="19.60" font-weight="400" fill="#b23a46"><tspan class="p" dy="-0.69" textLength="16.91" lengthAdjust="spacingAndGlyphs">(+</tspan><tspan class="d" dy="0.69" textLength="41.01" lengthAdjust="spacingAndGlyphs">3254</tspan><tspan class="p" dy="-0.69" textLength="6.14" lengthAdjust="spacingAndGlyphs">)</tspan></text>
<text id="r4c" x="495.91" y="233.50" font-size="14.25" font-weight="400" fill="#333" textLength="25.32" lengthAdjust="spacingAndGlyphs">1578</text>
<text id="r5l" x="152.54" y="269.28" font-size="16.67" font-weight="400" fill="#555" textLength="27.15" lengthAdjust="spacingAndGlyphs">경북</text>
<text id="r5m" x="283.87" y="270.73" font-size="25.59" font-weight="400" fill="#ad2f3b" style="stroke:#ad2f3b;stroke-width:0.77px;stroke-linejoin:round"><tspan class="d" textLength="38.83" lengthAdjust="spacingAndGlyphs">118</tspan><tspan class="k" font-size="23.28" font-weight="700" stroke-width="0.20" dy="-1.02" textLength="15.59" lengthAdjust="spacingAndGlyphs">만</tspan><tspan class="d" dy="1.02" textLength="51.77" lengthAdjust="spacingAndGlyphs">9276</tspan></text>
<text id="r5i" x="391.46" y="269.56" font-size="19.60" font-weight="400" fill="#b23a46"><tspan class="p" dy="-0.69" textLength="16.73" lengthAdjust="spacingAndGlyphs">(+</tspan><tspan class="d" dy="0.69" textLength="40.58" lengthAdjust="spacingAndGlyphs">2819</tspan><tspan class="p" dy="-0.69" textLength="6.08" lengthAdjust="spacingAndGlyphs">)</tspan></text>
<text id="r5c" x="475.99" y="268.29" font-size="14.25" font-weight="400" fill="#333" textLength="24.04" lengthAdjust="spacingAndGlyphs">1761</text>
<text id="r6l" x="152.26" y="304.56" font-size="16.67" font-weight="400" fill="#555" textLength="27.43" lengthAdjust="spacingAndGlyphs">대구</text>
<text id="r6m" x="279.57" y="306.61" font-size="25.59" font-weight="400" fill="#ad2f3b" style="stroke:#ad2f3b;stroke-width:0.77px;stroke-linejoin:round"><tspan class="d" textLength="38.83" lengthAdjust="spacingAndGlyphs">113</tspan><tspan class="k" font-size="23.28" font-weight="700" stroke-width="0.20" dy="-1.02" textLength="15.59" lengthAdjust="spacingAndGlyphs">만</tspan><tspan class="d" dy="1.02" textLength="51.77" lengthAdjust="spacingAndGlyphs">7207</tspan></text>
<text id="r6i" x="386.00" y="305.71" font-size="19.60" font-weight="400" fill="#b23a46"><tspan class="p" dy="-0.69" textLength="17.17" lengthAdjust="spacingAndGlyphs">(+</tspan><tspan class="d" dy="0.69" textLength="41.64" lengthAdjust="spacingAndGlyphs">2508</tspan><tspan class="p" dy="-0.69" textLength="6.24" lengthAdjust="spacingAndGlyphs">)</tspan></text>
<text id="r6c" x="472.23" y="304.45" font-size="14.25" font-weight="400" fill="#333" textLength="25.60" lengthAdjust="spacingAndGlyphs">1703</text>
<text id="r7l" x="152.84" y="339.84" font-size="16.67" font-weight="400" fill="#555" textLength="26.33" lengthAdjust="spacingAndGlyphs">충남</text>
<text id="r7m" x="271.07" y="341.86" font-size="25.59" font-weight="400" fill="#ad2f3b" style="stroke:#ad2f3b;stroke-width:0.77px;stroke-linejoin:round"><tspan class="d" textLength="39.12" lengthAdjust="spacingAndGlyphs">104</tspan><tspan class="k" font-size="23.28" font-weight="700" stroke-width="0.20" dy="-1.02" textLength="15.71" lengthAdjust="spacingAndGlyphs">만</tspan><tspan class="d" dy="1.02" textLength="52.16" lengthAdjust="spacingAndGlyphs">7216</tspan></text>
<text id="r7i" x="378.96" y="340.96" font-size="19.60" font-weight="400" fill="#b23a46"><tspan class="p" dy="-0.69" textLength="16.84" lengthAdjust="spacingAndGlyphs">(+</tspan><tspan class="d" dy="0.69" textLength="40.84" lengthAdjust="spacingAndGlyphs">2223</tspan><tspan class="p" dy="-0.69" textLength="6.11" lengthAdjust="spacingAndGlyphs">)</tspan></text>
<text id="r7c" x="465.23" y="339.70" font-size="14.25" font-weight="400" fill="#333" textLength="24.33" lengthAdjust="spacingAndGlyphs">1314</text>
<text id="r8l" x="152.78" y="375.12" font-size="16.67" font-weight="400" fill="#555" textLength="26.93" lengthAdjust="spacingAndGlyphs">전북</text>
<text id="r8m" x="258.89" y="375.91" font-size="25.59" font-weight="400" fill="#ad2f3b" style="stroke:#ad2f3b;stroke-width:0.77px;stroke-linejoin:round"><tspan class="d" textLength="26.68" lengthAdjust="spacingAndGlyphs">87</tspan><tspan class="k" font-size="23.28" font-weight="700" stroke-width="0.20" dy="-1.02" textLength="16.07" lengthAdjust="spacingAndGlyphs">만</tspan><tspan class="d" dy="1.02" textLength="53.36" lengthAdjust="spacingAndGlyphs">7392</tspan></text>
<text id="r8i" x="355.66" y="374.76" font-size="19.60" font-weight="400" fill="#b23a46"><tspan class="p" dy="-0.69" textLength="16.87" lengthAdjust="spacingAndGlyphs">(+</tspan><tspan class="d" dy="0.69" textLength="40.90" lengthAdjust="spacingAndGlyphs">1704</tspan><tspan class="p" dy="-0.69" textLength="6.12" lengthAdjust="spacingAndGlyphs">)</tspan></text>
<text id="r8c" x="440.91" y="373.50" font-size="14.25" font-weight="400" fill="#333" textLength="25.32" lengthAdjust="spacingAndGlyphs">1063</text>
<text id="r9l" x="152.56" y="410.38" font-size="16.95" font-weight="400" fill="#555" textLength="26.87" lengthAdjust="spacingAndGlyphs">전남</text>
<text id="r9m" x="257.34" y="411.98" font-size="25.59" font-weight="400" fill="#ad2f3b" style="stroke:#ad2f3b;stroke-width:0.77px;stroke-linejoin:round"><tspan class="d" textLength="26.68" lengthAdjust="spacingAndGlyphs">85</tspan><tspan class="k" font-size="23.28" font-weight="700" stroke-width="0.20" dy="-1.02" textLength="16.07" lengthAdjust="spacingAndGlyphs">만</tspan><tspan class="d" dy="1.02" textLength="53.37" lengthAdjust="spacingAndGlyphs">5199</tspan></text>
<text id="r9i" x="353.96" y="410.81" font-size="19.60" font-weight="400" fill="#b23a46"><tspan class="p" dy="-0.69" textLength="16.84" lengthAdjust="spacingAndGlyphs">(+</tspan><tspan class="d" dy="0.69" textLength="40.84" lengthAdjust="spacingAndGlyphs">1420</tspan><tspan class="p" dy="-0.69" textLength="6.11" lengthAdjust="spacingAndGlyphs">)</tspan></text>
<text id="r9c" x="441.17" y="409.54" font-size="14.25" font-weight="400" fill="#333" textLength="18.67" lengthAdjust="spacingAndGlyphs">740</text>
<text id="r10l" x="152.82" y="445.43" font-size="16.67" font-weight="400" fill="#555" textLength="26.87" lengthAdjust="spacingAndGlyphs">충북</text>
<text id="r10m" x="252.74" y="447.41" font-size="25.59" font-weight="400" fill="#ad2f3b" style="stroke:#ad2f3b;stroke-width:0.77px;stroke-linejoin:round"><tspan class="d" textLength="26.39" lengthAdjust="spacingAndGlyphs">81</tspan><tspan class="k" font-size="23.28" font-weight="700" stroke-width="0.20" dy="-1.02" textLength="15.89" lengthAdjust="spacingAndGlyphs">만</tspan><tspan class="d" dy="1.02" textLength="52.77" lengthAdjust="spacingAndGlyphs">7344</tspan></text>
<text id="r10i" x="348.00" y="446.26" font-size="19.60" font-weight="400" fill="#b23a46"><tspan class="p" dy="-0.69" textLength="17.10" lengthAdjust="spacingAndGlyphs">(+</tspan><tspan class="d" dy="0.69" textLength="41.47" lengthAdjust="spacingAndGlyphs">1991</tspan><tspan class="p" dy="-0.69" textLength="6.21" lengthAdjust="spacingAndGlyphs">)</tspan></text>
<text id="r10c" x="433.45" y="445.00" font-size="14.25" font-weight="400" fill="#333" textLength="18.77" lengthAdjust="spacingAndGlyphs">898</text>
<text id="r11l" x="152.77" y="480.96" font-size="16.67" font-weight="400" fill="#555" textLength="27.75" lengthAdjust="spacingAndGlyphs">강원</text>
<text id="r11m" x="249.08" y="481.76" font-size="25.90" font-weight="400" fill="#ad2f3b" style="stroke:#ad2f3b;stroke-width:0.78px;stroke-linejoin:round"><tspan class="d" textLength="26.20" lengthAdjust="spacingAndGlyphs">77</tspan><tspan class="k" font-size="23.57" font-weight="700" stroke-width="0.21" dy="-1.04" textLength="15.78" lengthAdjust="spacingAndGlyphs">만</tspan><tspan class="d" dy="1.04" textLength="52.40" lengthAdjust="spacingAndGlyphs">2777</tspan></text>
<text id="r11i" x="343.96" y="480.35" font-size="19.60" font-weight="400" fill="#b23a46"><tspan class="p" dy="-0.69" textLength="16.84" lengthAdjust="spacingAndGlyphs">(+</tspan><tspan class="d" dy="0.69" textLength="40.84" lengthAdjust="spacingAndGlyphs">1912</tspan><tspan class="p" dy="-0.69" textLength="6.11" lengthAdjust="spacingAndGlyphs">)</tspan></text>
<text id="r11c" x="429.93" y="479.37" font-size="14.62" font-weight="400" fill="#333" textLength="23.96" lengthAdjust="spacingAndGlyphs">1111</text>
<text id="r12l" x="152.82" y="516.24" font-size="16.67" font-weight="400" fill="#555" textLength="26.87" lengthAdjust="spacingAndGlyphs">광주</text>
<text id="r12m" x="250.43" y="518.31" font-size="25.59" font-weight="400" fill="#ad2f3b" style="stroke:#ad2f3b;stroke-width:0.77px;stroke-linejoin:round"><tspan class="d" textLength="26.44" lengthAdjust="spacingAndGlyphs">76</tspan><tspan class="k" font-size="23.28" font-weight="700" stroke-width="0.20" dy="-1.02" textLength="15.93" lengthAdjust="spacingAndGlyphs">만</tspan><tspan class="d" dy="1.02" textLength="39.66" lengthAdjust="spacingAndGlyphs">325</tspan></text>
<text id="r12i" x="332.96" y="516.93" font-size="19.60" font-weight="400" fill="#b23a46"><tspan class="p" dy="-0.69" textLength="16.84" lengthAdjust="spacingAndGlyphs">(+</tspan><tspan class="d" dy="0.69" textLength="40.84" lengthAdjust="spacingAndGlyphs">1458</tspan><tspan class="p" dy="-0.69" textLength="6.11" lengthAdjust="spacingAndGlyphs">)</tspan></text>
<text id="r12c" x="416.19" y="515.90" font-size="14.25" font-weight="400" fill="#333" textLength="18.36" lengthAdjust="spacingAndGlyphs">705</text>
<text id="r13l" x="152.23" y="551.52" font-size="16.67" font-weight="400" fill="#555" textLength="28.12" lengthAdjust="spacingAndGlyphs">대전</text>
<text id="r13m" x="249.58" y="553.06" font-size="25.59" font-weight="400" fill="#ad2f3b" style="stroke:#ad2f3b;stroke-width:0.77px;stroke-linejoin:round"><tspan class="d" textLength="26.53" lengthAdjust="spacingAndGlyphs">75</tspan><tspan class="k" font-size="23.28" font-weight="700" stroke-width="0.20" dy="-1.02" textLength="15.98" lengthAdjust="spacingAndGlyphs">만</tspan><tspan class="d" dy="1.02" textLength="53.07" lengthAdjust="spacingAndGlyphs">6629</tspan></text>
<text id="r13i" x="345.86" y="551.68" font-size="19.60" font-weight="400" fill="#b23a46"><tspan class="p" dy="-0.69" textLength="16.72" lengthAdjust="spacingAndGlyphs">(+</tspan><tspan class="d" dy="0.69" textLength="40.55" lengthAdjust="spacingAndGlyphs">1785</tspan><tspan class="p" dy="-0.69" textLength="6.07" lengthAdjust="spacingAndGlyphs">)</tspan></text>
<text id="r13c" x="429.97" y="550.65" font-size="14.25" font-weight="400" fill="#333" textLength="17.95" lengthAdjust="spacingAndGlyphs">808</text>
<text id="r14l" x="152.84" y="587.03" font-size="16.95" font-weight="400" fill="#555" textLength="26.33" lengthAdjust="spacingAndGlyphs">울산</text>
<text id="r14m" x="233.55" y="587.76" font-size="25.59" font-weight="400" fill="#ad2f3b" style="stroke:#ad2f3b;stroke-width:0.77px;stroke-linejoin:round"><tspan class="d" textLength="26.41" lengthAdjust="spacingAndGlyphs">55</tspan><tspan class="k" font-size="23.28" font-weight="700" stroke-width="0.20" dy="-1.02" textLength="15.90" lengthAdjust="spacingAndGlyphs">만</tspan><tspan class="d" dy="1.02" textLength="52.81" lengthAdjust="spacingAndGlyphs">6002</tspan></text>
<text id="r14i" x="329.50" y="586.60" font-size="19.60" font-weight="400" fill="#b23a46"><tspan class="p" dy="-0.69" textLength="16.72" lengthAdjust="spacingAndGlyphs">(+</tspan><tspan class="d" dy="0.69" textLength="40.55" lengthAdjust="spacingAndGlyphs">1018</tspan><tspan class="p" dy="-0.69" textLength="6.07" lengthAdjust="spacingAndGlyphs">)</tspan></text>
<text id="r14c" x="417.34" y="585.61" font-size="14.25" font-weight="400" fill="#333" textLength="18.51" lengthAdjust="spacingAndGlyphs">434</text>
<text id="r15l" x="152.82" y="622.08" font-size="16.67" font-weight="400" fill="#555" textLength="26.87" lengthAdjust="spacingAndGlyphs">제주</text>
<text id="r15m" x="217.04" y="623.01" font-size="25.59" font-weight="400" fill="#ad2f3b" style="stroke:#ad2f3b;stroke-width:0.77px;stroke-linejoin:round"><tspan class="d" textLength="26.29" lengthAdjust="spacingAndGlyphs">34</tspan><tspan class="k" font-size="23.28" font-weight="700" stroke-width="0.20" dy="-1.02" textLength="15.84" lengthAdjust="spacingAndGlyphs">만</tspan><tspan class="d" dy="1.02" textLength="52.58" lengthAdjust="spacingAndGlyphs">1891</tspan></text>
<text id="r15i" x="312.44" y="621.85" font-size="19.60" font-weight="400" fill="#b23a46"><tspan class="p" dy="-0.69" textLength="17.42" lengthAdjust="spacingAndGlyphs">(+</tspan><tspan class="d" dy="0.69" textLength="31.68" lengthAdjust="spacingAndGlyphs">364</tspan><tspan class="p" dy="-0.69" textLength="6.33" lengthAdjust="spacingAndGlyphs">)</tspan></text>
<text id="r15c" x="388.75" y="620.86" font-size="14.25" font-weight="400" fill="#333" textLength="16.78" lengthAdjust="spacingAndGlyphs">221</text>
<text id="r16l" x="152.82" y="657.36" font-size="16.67" font-weight="400" fill="#555" textLength="26.87" lengthAdjust="spacingAndGlyphs">세종</text>
<text id="r16m" x="209.43" y="658.56" font-size="25.59" font-weight="400" fill="#ad2f3b" style="stroke:#ad2f3b;stroke-width:0.77px;stroke-linejoin:round"><tspan class="d" textLength="26.48" lengthAdjust="spacingAndGlyphs">20</tspan><tspan class="k" font-size="23.28" font-weight="700" stroke-width="0.20" dy="-1.02" textLength="15.95" lengthAdjust="spacingAndGlyphs">만</tspan><tspan class="d" dy="1.02" textLength="52.96" lengthAdjust="spacingAndGlyphs">5072</tspan></text>
<text id="r16i" x="304.99" y="657.18" font-size="19.60" font-weight="400" fill="#b23a46"><tspan class="p" dy="-0.69" textLength="17.10" lengthAdjust="spacingAndGlyphs">(+</tspan><tspan class="d" dy="0.69" textLength="31.11" lengthAdjust="spacingAndGlyphs">520</tspan><tspan class="p" dy="-0.69" textLength="6.21" lengthAdjust="spacingAndGlyphs">)</tspan></text>
<text id="r16c" x="380.73" y="656.15" font-size="14.25" font-weight="400" fill="#333" textLength="12.30" lengthAdjust="spacingAndGlyphs">46</text>
<text id="r17l" x="152.51" y="692.39" font-size="16.67" font-weight="400" fill="#555" textLength="28.12" lengthAdjust="spacingAndGlyphs">검역</text>
<text id="r17m" x="192.67" y="694.73" font-size="25.59" font-weight="400" fill="#ad2f3b" style="stroke:#ad2f3b;stroke-width:0.77px;stroke-linejoin:round"><tspan class="d" textLength="13.22" lengthAdjust="spacingAndGlyphs">1</tspan><tspan class="k" font-size="23.28" font-weight="700" stroke-width="0.20" dy="-1.02" textLength="15.92" lengthAdjust="spacingAndGlyphs">만</tspan><tspan class="d" dy="1.02" textLength="52.87" lengthAdjust="spacingAndGlyphs">4896</tspan></text>
<text id="r17i" x="275.14" y="693.56" font-size="19.60" font-weight="400" fill="#b23a46"><tspan class="p" dy="-0.69" textLength="17.23" lengthAdjust="spacingAndGlyphs">(+</tspan><tspan class="d" dy="0.69" textLength="20.89" lengthAdjust="spacingAndGlyphs">28</tspan><tspan class="p" dy="-0.69" textLength="6.26" lengthAdjust="spacingAndGlyphs">)</tspan></text>
<text id="r17c" x="339.92" y="692.29" font-size="14.25" font-weight="400" fill="#333" textLength="10.83" lengthAdjust="spacingAndGlyphs">16</text>
</svg>
</body>
</html>
